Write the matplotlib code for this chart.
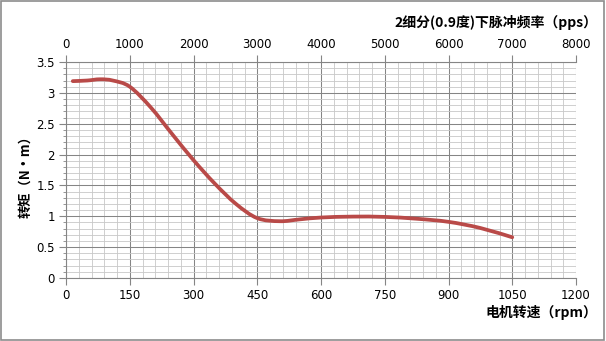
import numpy as np
import matplotlib
matplotlib.use("Agg")
from matplotlib import pyplot as plt
from matplotlib.ticker import MultipleLocator
from matplotlib.patches import Rectangle, PathPatch
from matplotlib.path import Path

plt.rcParams['font.family'] = ['Noto Sans CJK SC', 'DejaVu Sans']

# speed (rpm) vs torque (N*m)
speed = [16, 50, 80, 110, 150, 200, 250, 300, 350, 400, 450, 503, 550, 600,
         675, 750, 825, 900, 975, 1050]
torque = [3.19, 3.2, 3.22, 3.2, 3.1, 2.76, 2.33, 1.91, 1.53, 1.2, 0.97, 0.92,
          0.95, 0.98, 0.995, 0.99, 0.96, 0.91, 0.81, 0.66]

x_ticks = [0, 150, 300, 450, 600, 750, 900, 1050, 1200]
y_ticks = [0, 0.5, 1, 1.5, 2, 2.5, 3, 3.5]
pps_ticks = [0, 1000, 2000, 3000, 4000, 5000, 6000, 7000, 8000]
pps_per_rpm = 400 / 60.0


def smooth_path(xs, ys):
    # catmull-rom through the points, as bezier segments (like excel's smoothed line)
    p = np.column_stack([xs, ys]).astype(float)
    p = np.vstack([p[0], p, p[-1]])
    verts = [p[1]]
    codes = [Path.MOVETO]
    for i in range(1, len(p) - 2):
        c1 = p[i] + (p[i + 1] - p[i - 1]) / 6.0
        c2 = p[i + 1] - (p[i + 2] - p[i]) / 6.0
        verts += [c1, c2, p[i + 1]]
        codes += [Path.CURVE4] * 3
    return Path(verts, codes)


fig = plt.figure(figsize=(6.06, 3.41), dpi=100)
fig.patches.append(Rectangle((0.002, 0.003), 0.995, 0.993, transform=fig.transFigure,
                             fill=False, edgecolor='#8c8c8c', linewidth=1.2))
ax = fig.add_axes([66 / 606, 1 - 278 / 341, 510 / 606, 216 / 341])

ax.set_xlim(0, 1200)
ax.set_ylim(0, 3.5)
ax.set_xticks(x_ticks)
ax.set_yticks(y_ticks)
ax.set_yticklabels(['0', '0.5', '1', '1.5', '2', '2.5', '3', '3.5'])
ax.xaxis.set_minor_locator(MultipleLocator(30))
ax.yaxis.set_minor_locator(MultipleLocator(0.1))
ax.grid(which='major', color='#858585', linewidth=0.75)
ax.grid(which='minor', color='#c8c8c8', linewidth=0.6)
ax.set_axisbelow(True)

for s in ['top', 'right']:
    ax.spines[s].set_visible(False)
for s in ['left', 'bottom']:
    ax.spines[s].set_color('#858585')
    ax.spines[s].set_linewidth(0.8)

ax.tick_params(which='major', length=5, width=0.8, color='#858585', labelsize=8.5, pad=3)
ax.tick_params(axis='x', which='minor', length=0)
ax.tick_params(axis='y', which='minor', length=2.5, width=0.6, color='#858585')
for lab in ax.get_xticklabels() + ax.get_yticklabels():
    lab.set_family(['DejaVu Sans'])

ax.add_patch(PathPatch(smooth_path(speed, torque), fill=False, edgecolor='#b94a48',
                       linewidth=2.7, capstyle='round', joinstyle='round'))

top = ax.secondary_xaxis('top', functions=(lambda r: r * pps_per_rpm,
                                           lambda p: p / pps_per_rpm))
top.set_xticks(pps_ticks)
top.spines['top'].set_color('#858585')
top.spines['top'].set_linewidth(0.8)
top.tick_params(length=5, width=0.8, color='#858585', labelsize=8.5, pad=3)
for lab in top.get_xticklabels():
    lab.set_family(['DejaVu Sans'])

fig.text(597 / 606, 1 - 22 / 341, '2细分(0.9度)下脉冲频率（pps）', ha='right',
         va='center', fontsize=10, fontweight='bold')
fig.text(597 / 606, 1 - 313 / 341, '电机转速（rpm）', ha='right', va='center',
         fontsize=10, fontweight='bold')
fig.text(25 / 606, 1 - 174 / 341, '转矩（N·m）', rotation=90, ha='center',
         va='center', fontsize=9.5, fontweight='bold')

fig.savefig('out.png', dpi=100)
